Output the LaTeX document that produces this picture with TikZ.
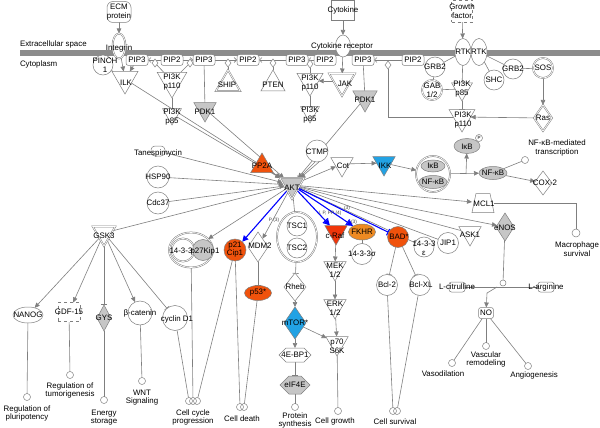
\documentclass[tikz,border=0pt]{standalone}
\usepackage{fontspec}
\setmainfont{Liberation Sans}
\usetikzlibrary{shapes.geometric,shapes.symbols,arrows.meta}
\pgfdeclarelayer{bg}
\pgfsetlayers{bg,main}
\definecolor{eg}{HTML}{7F7F7F}
\definecolor{fg}{HTML}{C6C6C6}
\definecolor{mem}{HTML}{8C8C8C}
\definecolor{orr}{HTML}{F0520C}
\definecolor{orl}{HTML}{EE8A22}
\definecolor{crd}{HTML}{F0360A}
\definecolor{blu}{HTML}{22A2E4}
\begin{document}
\begin{tikzpicture}[x=1pt,y=-1pt,
 every node/.style={inner sep=0pt,outer sep=0pt,font=\fontsize{7.9}{8.8}\selectfont,align=center},
 mol/.style={draw=eg,line width=0.5pt,fill=white},
 dbl/.style={double=white,double distance=0.7pt},
 circ/.style={mol,circle,minimum size=#1},
 circ/.default=20,
 ell/.style 2 args={mol,ellipse,minimum width=#1,minimum height=#2},
 itri/.style={mol,regular polygon,regular polygon sides=3,shape border rotate=180,minimum size=#1},
 utri/.style={mol,regular polygon,regular polygon sides=3,minimum size=#1},
 dia/.style 2 args={mol,diamond,minimum width=#1,minimum height=#2},
 chem/.style 2 args={mol,rectangle,rounded corners=2.5pt,minimum width=#1,minimum height=#2},
 sqbox/.style 2 args={mol,rectangle,minimum width=#1,minimum height=#2},
 hexa/.style 2 args={mol,signal,signal to=east and west,minimum width=#1,minimum height=#2},
 fcirc/.style={draw=eg,line width=0.5pt,circle,minimum size=7},
 ed/.style={draw=eg,line width=0.6pt},
 act/.style={ed,-{Triangle[length=5pt,width=4.5pt]}},
 inh/.style={ed,-{Bar[width=6pt]}},
 conv/.style={ed,-{Straight Barb[length=2.5pt,width=5pt]}},
 bact/.style={draw=blue,line width=1.1pt,-{Triangle[length=6pt,width=6pt]}},
 bab/.style={draw=blue,line width=1.1pt,-{Bar[width=7pt] Triangle[length=6pt,width=6pt]}},
 binh/.style={draw=blue,line width=1.1pt,-{Bar[width=7pt]}},
 smt/.style={font=\fontsize{4.8}{5}\selectfont,text=black!75}
]
\useasboundingbox (0,0) rectangle (600,428);
% membrane
\fill[mem] (20,50) rectangle (600,56.5);
\node[anchor=west] (Lext) at (20,44) {Extracellular space};
\node[anchor=west] (Lcyt) at (20,64) {Cytoplasm};

% ---- top region shapes
\node[chem={24}{21},rounded corners=6pt] (ecm) at (119,12) {};
\node[ell={13}{25},dbl] (intg) at (119,46) {};
\node[circ=20] (pinch) at (103,65) {};
\node[chem={22}{11}] (pip3a) at (137,60) {};
\node[chem={22}{11}] (pip2a) at (172,60) {};
\node[chem={22}{11}] (pip3b) at (204,60) {};
\node[chem={22}{11}] (pip2b) at (248,60) {};
\node[chem={22}{11}] (pip3c) at (297,60) {};
\node[chem={22}{11}] (pip2c) at (325,60) {};
\node[chem={22}{11}] (pip3d) at (363,60) {};
\node[chem={22}{11}] (pip2d) at (413,60) {};
\node[itri=30] (ilk) at (125,79) {};
\node[itri=34] (p110a) at (172,81) {};
\node[dia={6}{8}] (dia1) at (155,63) {};
\node[dia={6}{8}] (dia2) at (190,63) {};
\node[itri=22] (p85a) at (172,114) {};
\node[itri=26,fill=fg] (pdk1a) at (205,109) {};
\node[utri=28,dbl] (ship) at (228,84) {};
\node[dia={6}{8}] (diaS) at (228,63) {};
\node[utri=28] (pten) at (273,84) {};
\node[dia={6}{8}] (diaP) at (273,63) {};
\node[itri=30] (p110b) at (310,81) {};
\node[dia={6}{8}] (diaQ) at (310,64) {};
\node[itri=22] (p85b) at (310,112) {};
\node[itri=30,dbl] (jak) at (342,81) {};
\node[sqbox={23}{20}] (cyt) at (343,10) {};
\node[ell={15}{22}] (cytrec) at (343,46) {};
\node[itri=28,fill=fg] (pdk1b) at (365,98) {};
\node[dia={6}{8}] (dia3) at (388,65) {};
\node[sqbox={21}{22},dashed] (gf) at (462,11) {};
\node[ell={16}{27}] (rtk1) at (463,52) {};
\node[ell={16}{27}] (rtk2) at (479,52) {};
\node[circ=20] (grb2a) at (435,67) {};
\node[circ=20,dbl] (gab) at (432,90) {};
\node[itri=24] (p85c) at (462,89) {};
\node[circ=20] (shc) at (494,80) {};
\node[circ=20] (grb2b) at (513,69) {};
\node[circ=20,dbl] (sos) at (543,68) {};
\node[dia={18}{26},dbl] (ras) at (543,118) {};
\node[itri=30] (p110c) at (462,117) {};

% ---- middle
\node[chem={14}{10},rounded corners=4pt] (tanesp) at (158,151) {};
\node[circ=22] (hsp90) at (158,177) {};
\node[circ=22] (cdc37) at (158,203) {};
\node[utri=26,fill=orr] (pp2a) at (262,166) {};
\node[itri=28,fill=fg,dbl] (akt) at (292,185) {};
\node[circ=22] (ctmp) at (317,151) {};
\node[itri=26] (cot) at (342,164) {};
\node[itri=26,fill=blu] (ikk) at (384,163) {};
\node[ell={34}{36},dbl] (cplx1) at (433,174) {};
\node[ell={24}{12},fill=fg] (ikb1) at (433,166) {};
\node[ell={28}{13},fill=fg] (nfkb1) at (433,182) {};
\node[ell={26}{15},fill=fg] (ikbp) at (467,146) {};
\node[circ=7] (pcirc) at (479,138) {};
\node[ell={28}{13},fill=fg] (nfkb2) at (493,173) {};
\node[fcirc,fill=white] (nfkbc) at (525,160) {};
\node[dia={18}{24}] (cox2) at (543,183) {};
\node[minimum width=22,minimum height=19] (mcl1) at (483,203) {};
\filldraw[draw=eg,line width=0.5pt,fill=white] (476,193.5) -- (490,193.5) -- (494,212.5) -- (472,212.5) -- cycle;
\node[fcirc,minimum size=8,fill=white] (macro) at (576,233) {};
\node[dia={18}{28},fill=fg] (enos) at (505,227) {};
\node[itri=26] (ask1) at (470,233) {};
\node[circ=21] (jip1) at (448,243) {};
\node[circ=20] (e1433) at (424,247) {};
\node[circ=21,fill=orr] (bad) at (398,237) {};
\node[circ=21] (bcl2) at (387,285) {};
\node[circ=21] (bclxl) at (420,285) {};
\node[fcirc] (cs1) at (393,411) {};
\node[fcirc] (cs2) at (397,411) {};
\node[itri=26,fill=crd] (craf) at (336,232) {};
\node[ell={27}{16},fill=orl] (fkhr) at (362,232) {};
\node[circ=21] (s1433) at (362,254) {};
\node[itri=26] (mek) at (335,268) {};
\node[itri=26] (erk) at (335,306) {};
\node[itri=26] (p70) at (337,343) {};
\node[fcirc] (cgr) at (338,411) {};
\node[ell={40}{50},dbl] (tsc) at (297,237) {};
\node[circ=20] (tsc1) at (297,226) {};
\node[circ=20] (tsc2) at (297,248) {};
\node[dia={22}{28}] (rheb) at (295,287) {};
\node[dia={22}{32},fill=blu] (mtor) at (295,323) {};
\node[hexa={32}{14}] (ebp) at (295,355) {};
\node[hexa={30}{18},fill=fg] (eif) at (295,385) {};
\node[fcirc] (psyn) at (295,407) {};
\node[dia={20}{30}] (mdm2) at (258,247) {};
\node[ell={27}{15},fill=orr] (p53) at (258,293) {};
\node[circ=22,fill=orr] (p21) at (235,250) {};
\node[ell={44}{35},dbl] (cplx2) at (191,250) {};
\node[circ=23,dbl] (c14) at (183,250) {};
\node[circ=21,fill=fg] (p27) at (203,250) {};
\node[itri=26,dbl] (gsk3) at (104,233) {};
\node[ell={30}{16}] (nanog) at (28,315) {};
\node[sqbox={22}{19},dashed] (gdf) at (69,312) {};
\node[dia={14}{26},fill=fg] (gys) at (104,318) {};
\node[circ=24] (bcat) at (140,313) {};
\node[circ=25] (cycd) at (175,318) {};
\node[fcirc] (regp) at (27,397) {};
\node[fcirc] (regt) at (70,375) {};
\node[fcirc] (ener) at (104,400) {};
\node[fcirc] (wnt) at (142,381) {};
\node[fcirc] (cc1) at (189,401) {};
\node[fcirc] (cc2) at (193,401) {};
\node[fcirc] (cc3) at (197,401) {};
\node[fcirc] (cd1) at (240,407) {};
\node[fcirc] (cd2) at (244,407) {};
\node[chem={16}{10}] (lcit) at (457,287) {};
\node[chem={16}{10}] (larg) at (546,287) {};
\node[chem={15}{11}] (no) at (486,313) {};
\node[fcirc,minimum size=6,fill=white] (junc) at (503,283) {};
\coordinate (jb) at (497,287);
\coordinate (jk) at (487,293);
\coordinate (br) at (466,174);
\node[fcirc] (vaso) at (452,363) {};
\node[fcirc] (vasc) at (486,346) {};
\node[fcirc] (angio) at (528,366) {};

% ---- edges
\begin{pgfonlayer}{bg}
\draw[act] (ecm) -- (intg);
\draw[act] (intg) -- (ilk);
\draw[act] (pip3a) -- (ilk);
\draw[ed] (pinch) -- (ilk);
\draw[conv] (pip2a) -- (pip3a);
\draw[conv] (pip2a) -- (pip3b);
\draw[conv] (pip3b) -- (pip2b);
\draw[conv] (pip3c) -- (pip2b);
\draw[conv] (pip2c) -- (pip3c);
\draw[conv] (pip2d) -- (pip3d);
\draw[ed] (dia1) -- (p110a);
\draw[ed] (dia2) -- (p110a);
\draw[ed] (ship) -- (diaS);
\draw[ed] (pten) -- (diaP);
\draw[ed] (p110b) -- (diaQ);
\draw[ed] (pip3b) -- (pdk1a);
\draw[ed] (pip3d) -- (pdk1b);
\draw[inh] (p110a) -- (p85a);
\draw[inh] (p110b) -- (p85b);
\draw[inh] (p85c) -- (p110c);
\draw[act] (cyt) -- (cytrec);
\draw[act] (cytrec) -- (jak);
\draw[act] (jak) -- (p110b);
\draw[act] (gf) -- (rtk1);
\draw[ed] (rtk1) -- (grb2a);
\draw[ed] (rtk1) -- (p85c);
\draw[ed] (grb2a) -- (gab);
\draw[ed] (gab) -- (p85c);
\draw[ed] (rtk2) -- (shc);
\draw[ed] (rtk2) -- (grb2b);
\draw[ed] (grb2b) -- (sos);
\draw[act] (sos) -- (ras);
\draw[act] (ras) -- (p110c);
\draw[ed] (dia3) |- (p110c);
% into AKT
\foreach \s in {tanesp,hsp90,cdc37,ilk,p85a,pdk1a,pdk1b,pp2a}
  \draw[act] (\s) -- (akt);
\draw[inh] ([xshift=-2pt]ctmp.south) -- (akt);
\draw[act] ([xshift=2pt]ctmp.south) -- (akt);
% out of AKT
\draw[act] (akt) -- (cot);
\draw[act] (cot) -- (ikk);
\draw[act] (ikk) -- (cplx1);
\draw[act] (cplx1) -- (nfkb2);
\draw[act] (br) -- (ikbp);
\draw[ed] (nfkb2) -- (nfkbc);
\draw[act] (nfkb2) -- (cox2);
\draw[act] (akt) -- (mcl1);
\draw[ed] (mcl1.east) -| (macro);
\draw[act] (akt) -- (enos);
\draw[ed] (akt) -- (ask1);
\draw[ed] (akt) -- (jip1);
\draw[inh] (akt) -- (e1433);
\draw[binh] (akt) -- (bad);
\draw[bab] (akt) -- (fkhr);
\draw[bab] (akt) -- (craf);
\draw[inh] (akt) -- (tsc);
\draw[act] (akt) -- (mdm2);
\draw[act] (akt) -- (cplx2);
\draw[bact] (akt) -- (p21);
\draw[ed] (akt) -- (gsk3);
% GSK3 branch
\draw[act] (gsk3) -- (nanog);
\draw[act] (gsk3) -- (gdf);
\draw[inh] (gsk3) -- (gys);
\draw[act] (gsk3) -- (bcat);
\draw[inh] (gsk3) -- (cycd);
\draw[ed] (nanog) -- (regp);
\draw[ed] (gdf) -- (regt);
\draw[ed] (gys) -- (ener);
\draw[ed] (bcat) -- (wnt);
\draw[ed] (cycd) -- (cc1);
\draw[ed] (cplx2) -- (cc2);
\draw[ed] (p21) -- (cc3);
\draw[ed] (p21) -- (cd1);
\draw[ed] (p53) -- (cd2);
\draw[inh] (mdm2) -- (p53);
% mTOR branch
\draw[inh] (tsc) -- (rheb);
\draw[act] (rheb) -- (mtor);
\draw[act] (mtor) -- (ebp);
\draw[act] (mtor) -- (p70);
\draw[inh] (ebp) -- (eif);
\draw[ed] (eif) -- (psyn);
% Raf branch
\draw[act] (craf) -- (mek);
\draw[act] (mek) -- (erk);
\draw[act] (erk) -- (p70);
\draw[ed] (p70) -- (cgr);
\draw[ed] (fkhr) -- (s1433);
\draw[inh] (bad) -- (bcl2);
\draw[inh] (bad) -- (bclxl);
\draw[ed] (bcl2) -- (cs1);
\draw[ed] (bclxl) -- (cs2);
% NO branch
\draw[ed] (enos) -- (junc);
\draw[ed] (lcit) -- (larg);
\draw[act] (jb) -- (jk) -- (no);
\draw[ed] (no) -- (vaso);
\draw[ed] (no) -- (vasc);
\draw[ed] (no) -- (angio);
\end{pgfonlayer}

% ---- labels
\node (Lecm) at (119,12) {ECM\\protein};
\node (Lint) at (119,48) {Integrin};
\node (Lpinch) at (105,65.5) {PINCH\\1};
\node (Lp1) at (pip3a) {PIP3};
\node (Lp2) at (pip2a) {PIP2};
\node (Lp3) at (pip3b) {PIP3};
\node (Lp4) at (pip2b) {PIP2};
\node (Lp5) at (pip3c) {PIP3};
\node (Lp6) at (pip2c) {PIP2};
\node (Lp7) at (pip3d) {PIP3};
\node (Lp8) at (pip2d) {PIP2};
\node (Lilk) at (126,83) {ILK};
\node (Lp110a) at (172,82) {PI3K\\p110};
\node (Lp85a) at (172,117) {PI3K\\p85};
\node (Lpdk1a) at (205,112) {PDK1};
\node (Lship) at (227,85) {SHIP};
\node (Lpten) at (273,85) {PTEN};
\node (Lcyt2) at (343,10) {Cytokine};
\node (Lcytr) at (342,46) {Cytokine receptor};
\node (Lp110b) at (310,83) {PI3K\\p110};
\node (Lp85b) at (310,115) {PI3K\\p85};
\node (Ljak) at (345,84) {JAK};
\node (Lpdk1b) at (365,100) {PDK1};
\node (Lgf) at (462,11.5) {Growth\\factor};
\node (Lrtk) at (471,52) {RTKRTK};
\node (Lgrb2a) at (435,67) {GRB2};
\node (Lgab) at (432,90.5) {GAB\\1/2};
\node (Lp85c) at (462,89) {PI3K\\p85};
\node (Lshc) at (494,80) {SHC};
\node (Lgrb2b) at (513,69) {GRB2};
\node (Lsos) at (543,68) {SOS};
\node (Lras) at (543,118) {Ras};
\node (Lp110c) at (463,120) {PI3K\\p110};
\node (Ltan) at (158,153) {Tanespimycin};
\node (Lhsp) at (158,177) {HSP90};
\node (Lcdc) at (158,203) {Cdc37};
\node (Lpp2a) at (262,166) {PP2A};
\node (Lakt) at (292,188) {AKT};
\node (Lctmp) at (317,152) {CTMP};
\node (Lcot) at (343,166) {Cot};
\node (Likk) at (385,166) {IKK};
\node (Likb1) at (433,166) {IκB};
\node (Lnfkb1) at (433,182) {NF-κB};
\node (Likbp) at (467,146.5) {IκB};
\node[font=\fontsize{4.5}{5}\selectfont] (Lpp) at (479,138) {P};
\node (Lnfkb2) at (493,173) {NF-κB};
\node (Lcox) at (545,183) {COX-2};
\node (Lnft) at (557,148) {NF-κB-mediated\\transcription};
\node (Lmcl) at (484,204) {MCL1};
\node (Lmac) at (577,249.5) {Macrophage\\survival};
\node (Lenos) at (505,228) {eNOS};
\node (Lask) at (470,235) {ASK1};
\node (Ljip) at (448,243) {JIP1};
\node (Le14) at (424,248) {14-3-3\\ε};
\node[text=black] (Lbad) at (399,237) {BAD*};
\node (Lbcl2) at (387,285) {Bcl-2};
\node (Lbclx) at (421,285) {Bcl-XL};
\node (Lcs) at (395,422) {Cell survival};
\node (Lcraf) at (335,236) {c-Raf};
\node (Lfkhr) at (362,232) {FKHR};
\node (Ls14) at (362,254) {14-3-3σ};
\node (Lmek) at (335,270.5) {MEK\\1/2};
\node (Lerk) at (335,308.5) {ERK\\1/2};
\node (Lp70) at (337,346.5) {p70\\S6K};
\node (Lcg) at (335,421) {Cell growth};
\node (Ltsc1) at (297,226) {TSC1};
\node (Ltsc2) at (297,248) {TSC2};
\node (Lrheb) at (295,287) {Rheb};
\node (Lmtor) at (295,323) {mTOR*};
\node (Lebp) at (295,355) {4E-BP1};
\node (Leif) at (295,385) {eIF4E};
\node (Lps) at (295,420.5) {Protein\\synthesis};
\node (Lmdm) at (260,246) {MDM2};
\node (Lp53) at (258,293) {p53*};
\node (Lp21) at (235,249.5) {p21\\Cip1};
\node (L143) at (181,251) {14-3-3};
\node (Lp27) at (205,251) {p27Kip1};
\node (Lgsk) at (104,236) {GSK3};
\node (Lnan) at (28,315) {NANOG};
\node (Lgdf) at (69,312) {GDF-15};
\node (Lgys) at (104,318) {GYS};
\node (Lbcat) at (140,313) {β-catenin};
\node (Lcyc) at (177,319) {cyclin D1};
\node (Lregp) at (27,413.5) {Regulation of\\pluripotency};
\node (Lregt) at (70,390.5) {Regulation of\\tumorigenesis};
\node (Lener) at (104,417.5) {Energy\\storage};
\node (Lwnt) at (142,397.5) {WNT\\Signaling};
\node (Lcc) at (193,417.5) {Cell cycle\\progression};
\node (Lcd) at (242,419) {Cell death};
\node (Llcit) at (457,287) {L-citrulline};
\node (Llarg) at (546,287) {L-arginine};
\node (Lno) at (486,313) {NO};
\node (Lvaso) at (443,374) {Vasodilation};
\node (Lvasc) at (486,359.5) {Vascular\\remodeling};
\node (Lang) at (534,375) {Angiogenesis};
% edge labels
\node[smt] (Le1) at (274,220) {P (3)};
\node[smt] (Le2) at (330,213) {I, P, PP (4)};
\node[smt] (Le3) at (347,208) {(3)};
\node[smt] (Le4) at (354,222) {(3)};
\end{tikzpicture}
\end{document}
